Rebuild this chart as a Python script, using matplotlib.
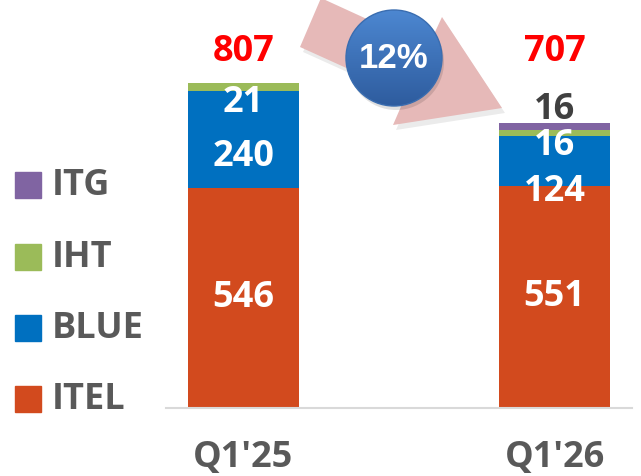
import numpy as np
import matplotlib
matplotlib.use("Agg")
import matplotlib.pyplot as plt
from matplotlib.patches import Polygon, Circle, Rectangle

# data
quarters = ["Q1'25", "Q1'26"]
series = ["ITEL", "BLUE", "IHT", "ITG"]
itel = [546, 551]
blue = [240, 124]
iht = [21, 16]
itg = [0, 16]
change_label = "12%"

colors = {"ITEL": "#D24A1E", "BLUE": "#0070C0", "IHT": "#9BBB59", "ITG": "#8064A2"}
grey = "#595959"

plt.rcParams['font.family'] = ['Open Sans', 'DejaVu Sans']

W, H = 641, 476
fig = plt.figure(figsize=(W / 100, H / 100), dpi=100)
ax = fig.add_axes([166 / W, 68 / H, 466 / W, 408 / H])

values = {"ITEL": itel, "BLUE": blue, "IHT": iht, "ITG": itg}
x = np.arange(len(quarters))
bottom = np.zeros(len(quarters))
for name in series:
    ax.bar(x, values[name], 0.357, bottom=bottom, color=colors[name], zorder=2)
    bottom += np.array(values[name])
totals = bottom

ax.set_xlim(-0.249, 1.249)
ax.set_ylim(0, 1013)
for s in ["top", "right", "left"]:
    ax.spines[s].set_visible(False)
ax.spines["bottom"].set_color("#D9D9D9")
ax.spines["bottom"].set_linewidth(1.5)
ax.set_yticks([])
ax.set_xticks(x)
ax.set_xticklabels(quarters, fontsize=26, fontweight="bold", color=grey)
ax.tick_params(axis="x", length=0, pad=23)

fs = 26
# segment labels
lab = dict(ha="center", va="center", fontsize=fs, fontweight="bold")
# Q1'25
ax.text(0, itel[0] / 2, str(itel[0]), color="white", **lab)
ax.text(0, itel[0] + blue[0] * 0.32, str(blue[0]), color="white", **lab)
ax.text(0, itel[0] + blue[0] - 29, str(iht[0]), color="white", **lab)
# Q1'26
ax.text(1, itel[1] / 2, str(itel[1]), color="white", **lab)
ax.text(1, itel[1] - 15, str(blue[1]), color="white", **lab)
ax.text(1, itel[1] + blue[1] + iht[1] - 40, str(iht[1]), color="white", **lab)
ax.text(1, totals[1] + 33, str(itg[1]), color="#404040", **lab)
# totals
for i, t in enumerate(totals):
    ax.text(x[i], 884, str(int(t)), color="#FF0000", **lab)

# legend (manual)
ov = fig.add_axes([0, 0, 1, 1], zorder=5)
ov.set_xlim(0, W)
ov.set_ylim(H, 0)
ov.axis("off")
leg_y = [185, 257, 328, 399]
for name, yy in zip(series[::-1], leg_y):
    ov.add_patch(Rectangle((15, yy - 13), 26, 26, color=colors[name]))
    ov.text(52, yy + 1, name, fontsize=fs, fontweight="bold", color=grey,
            ha="left", va="center")

# arrow with shadow
arrow = [(321, -2), (300, 47), (406, 95), (393, 125), (502, 108), (442, 17), (428, 47)]
shadow = [(px + 3, py + 5) for px, py in arrow]
ov.add_patch(Polygon(shadow, closed=True, facecolor="#000000", alpha=0.08, lw=0))
ov.add_patch(Polygon(arrow, closed=True, facecolor="#E6B9B8", lw=0))

# gradient circle
cx, cy, r = 394, 58, 48
ov.add_patch(Circle((cx + 2, cy + 4), r, facecolor="#000000", alpha=0.12, lw=0))
grad = np.linspace(0, 1, 256).reshape(-1, 1)
c1 = np.array([0.30, 0.53, 0.82])
c2 = np.array([0.18, 0.36, 0.62])
img = (c1[None, None, :] * (1 - grad[..., None]) + c2[None, None, :] * grad[..., None])
im = ov.imshow(img, extent=(cx - r, cx + r, cy + r, cy - r), aspect="auto", zorder=3)
clip = Circle((cx, cy), r, transform=ov.transData)
im.set_clip_path(clip)
ov.add_patch(Circle((cx, cy), r, facecolor="none", edgecolor="#3A6DB0", lw=1, zorder=4))
ov.text(cx, cy + 1, change_label, color="white", fontsize=25, fontweight="bold",
        ha="center", va="center", zorder=5, family=["Liberation Sans", "DejaVu Sans"])
ov.set_xlim(0, W)
ov.set_ylim(H, 0)

fig.savefig("out.png", dpi=100)
